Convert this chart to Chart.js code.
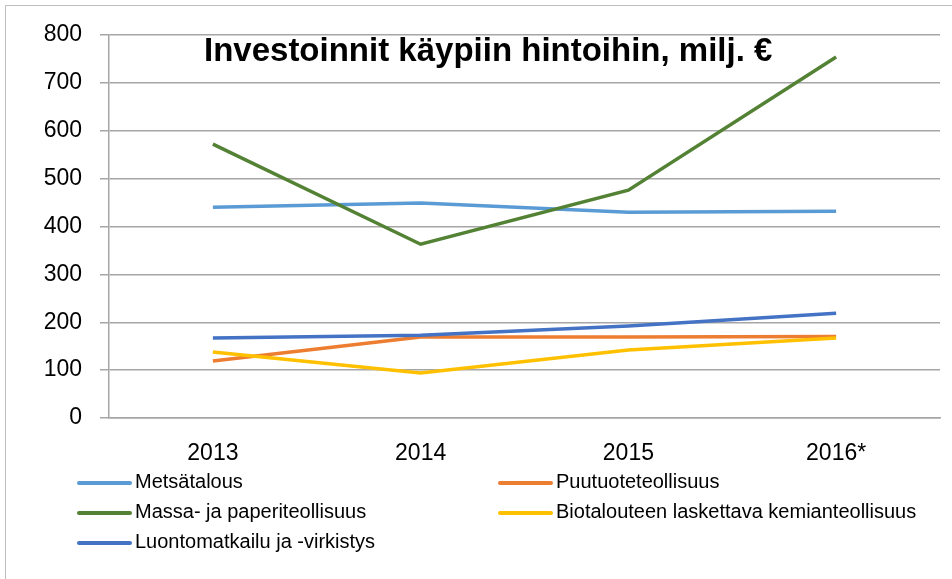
<!DOCTYPE html>
<html>
<head>
<meta charset="utf-8">
<script src="https://cdn.jsdelivr.net/npm/chart.js@4.4.0/dist/chart.umd.min.js"></script>
<style>
    body { margin: 0; background: #fff; }
    #wrap { position: relative; width: 952px; height: 579px; overflow: hidden; font-family: "Liberation Sans", Arial, sans-serif; }
    #frame { position: absolute; left: 5px; top: 5px; width: 1000px; height: 700px; border: 1.5px solid #bfbfbf; box-sizing: border-box; }
    #chart { position: absolute; left: 0; top: 0; }
    #title { position: absolute; left: 204px; top: 31px; font-weight: bold; font-size: 33px; color: #000; white-space: nowrap; }
    .item { position: absolute; font-size: 20px; color: #000; white-space: nowrap; line-height: 22px; }
    .item span.ln { display: inline-block; width: 55px; height: 4px; border-radius: 2px; vertical-align: middle; margin-right: 3px; }
</style>
</head>
<body>
<div id="wrap">
    <div id="frame"></div>
    <canvas id="chart" width="952" height="579"></canvas>
    <div id="title">Investoinnit käypiin hintoihin, milj. €</div>
    <div id="legend"></div>
</div>
<script>
let years = ["2013", "2014", "2015", "2016*"];
let seriesNames = ["Metsätalous", "Puutuoteteollisuus", "Massa- ja paperiteollisuus", "Biotalouteen laskettava kemianteollisuus", "Luontomatkailu ja -virkistys"];
let metsatalous = [440, 449, 430, 432];
let puutuote = [119, 169, 169, 170];
let massa = [572, 363, 476, 754];
let biokemia = [138, 94, 142, 167];
let luonto = [167, 173, 192, 219];
let colors = ["#5B9BD5", "#ED7D31", "#548235", "#FFC000", "#4472C4"];
let yTicks = [0, 100, 200, 300, 400, 500, 600, 700, 800];

let allData = [metsatalous, puutuote, massa, biokemia, luonto];
let datasets = allData.map(function (d, i) {
    return {
        label: seriesNames[i],
        data: d,
        borderColor: colors[i],
        backgroundColor: colors[i],
        borderWidth: 3.5,
        pointRadius: 0,
        tension: 0,
        order: allData.length - 1 - i
    };
});

let ctx = document.getElementById("chart").getContext("2d");
let chart = new Chart(ctx, {
    type: "line",
    data: { labels: years, datasets: datasets },
    options: {
        responsive: false,
        animation: false,
        events: [],
        layout: { padding: { top: 35, right: 12, left: 0, bottom: 0 } },
        plugins: { legend: { display: false }, title: { display: false }, tooltip: { enabled: false } },
        scales: {
            x: {
                offset: true,
                grid: { display: false, drawTicks: false },
                border: { display: true, color: "#a6a6a6", width: 1.5 },
                ticks: { color: "#000", font: { family: "Liberation Sans", size: 23 }, padding: 22 },
                afterFit: function (s) { s.height = 161; }
            },
            y: {
                min: 0,
                max: 800,
                afterBuildTicks: function (s) { s.ticks = yTicks.map(function (v) { return { value: v }; }); },
                grid: { color: "#a6a6a6", lineWidth: 1.5, tickLength: 9, drawTicks: true },
                border: { display: true, color: "#a6a6a6", width: 1.5 },
                ticks: { color: "#000", font: { family: "Liberation Sans", size: 23 }, padding: 18 },
                afterFit: function (s) { s.width = 109; }
            }
        }
    }
});

// legend in two columns, like the Excel one
let legend = document.getElementById("legend");
let colX = [77, 498];
let rowY = [470, 500, 530];
seriesNames.forEach(function (name, i) {
    let el = document.createElement("div");
    el.className = "item";
    el.style.left = colX[i % 2] + "px";
    el.style.top = rowY[Math.floor(i / 2)] + "px";
    el.innerHTML = '<span class="ln" style="background:' + colors[i] + '"></span>' + name;
    legend.appendChild(el);
});
</script>
</body>
</html>
